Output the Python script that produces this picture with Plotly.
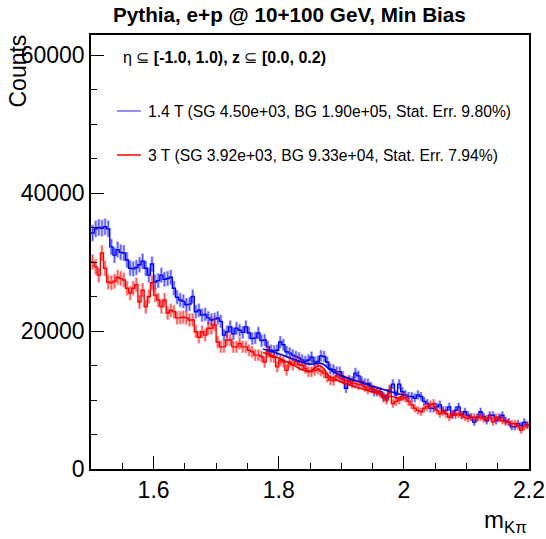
import numpy as np
import plotly.graph_objects as go

# ---------------- data ----------------
x_lo, x_hi, n_bins = 1.5, 2.2, 140

blue_counts = [
    34200, 34800, 35000, 34900, 35100, 34800, 32200, 31000, 31800, 31400,
    31300, 30300, 29100, 29000, 29200, 29600, 30100, 29100, 28100, 29700,
    27100, 27300, 28100, 27500, 27600, 27800, 26200, 24900, 24500, 24300,
    23800, 23900, 25000, 22800, 23000, 22300, 22400, 21900, 21600, 21700,
    21900, 21400, 19400, 19900, 20600, 19600, 20400, 20100, 19800, 20600,
    19700, 18900, 19000, 19700, 18600, 18700, 17700, 17200, 17100, 17200,
    18400, 18000, 17000, 16800, 16500, 16300, 16100, 15800, 15600, 15800,
    16200, 15500, 15600, 16400, 16300, 15500, 14500, 14400, 14100, 14100,
    13400, 11700, 12900, 12700, 13900, 13500, 12700, 12400, 12400, 11900,
    11200, 11200, 11200, 10500, 10300, 11500, 12300, 10750, 12300, 11200,
    10750, 10500, 10500, 10300, 10750, 10500, 9800, 9500, 8800, 8800,
    9000, 9300, 8500, 8500, 9000, 7800, 8500, 9000, 7800, 8300,
    7800, 7500, 6800, 7500, 8300, 7600, 7000, 7800, 7800, 7000,
    7500, 7800, 7000, 6800, 6100, 6100, 6600, 6300, 6800, 6400,
]

red_counts = [
    30000, 29300, 28100, 31300, 29100, 27100, 27000, 27200, 27800, 27600,
    27400, 26200, 25500, 26200, 26700, 24200, 25900, 23500, 25000, 27000,
    25200, 24500, 23500, 24500, 22600, 23000, 22800, 21900, 21900, 22000,
    21900, 21600, 21600, 19900, 19100, 19900, 19400, 20400, 20400, 20900,
    18400, 17700, 17700, 18700, 18700, 17700, 17700, 18200, 17700, 17700,
    17200, 17000, 16500, 16500, 16300, 15500, 17000, 16300, 16200, 14800,
    15800, 15500, 14300, 15500, 15100, 15600, 15100, 15000, 14600, 14100,
    14100, 14300, 14500, 14200, 13900, 13300, 12900, 12800, 13500, 13200,
    13000, 12800, 12700, 12400, 12400, 12200, 12300, 11900, 11500, 11700,
    11500, 11300, 11000, 10300, 10000, 11500, 9500, 9800, 10000, 10500,
    10300, 9800, 9300, 8800, 8500, 8300, 8800, 9000, 9300, 9500,
    8500, 8000, 8300, 8000, 7500, 8000, 7800, 8000, 7800, 7500,
    7300, 7500, 7500, 7400, 7500, 7300, 7300, 7500, 6800, 7500,
    7300, 7000, 6800, 6800, 6600, 6600, 6200, 5600, 6100, 6300,
]

# statistical-error scale factor applied to sqrt(N)
err_scale = 6.6

# fit curves
fit_x     = [1.775, 1.80, 1.82, 1.84, 1.85, 1.857, 1.865, 1.873, 1.88, 1.90, 1.93, 1.96, 1.98, 2.00]
blue_fit  = [17400, 16700, 16000, 15400, 15200, 15250, 15350, 15100, 14500, 13500, 12600, 11700, 11200, 10700]
red_fit   = [16900, 16100, 15200, 14300, 14200, 14600, 15000, 14400, 13500, 12600, 11700, 10900, 10500, 10100]

title_text = "<b>Pythia, e+p @ 10+100 GeV, Min Bias</b>"
header_text = "η ⊆ <b>[-1.0, 1.0), z</b> ⊆ <b>[0.0, 0.2)</b>"
legend_texts = ["1.4 T (SG 4.50e+03, BG 1.90e+05, Stat. Err. 9.80%)",
                "3 T (SG 3.92e+03, BG 9.33e+04, Stat. Err. 7.94%)"]
x_ticks = [1.6, 1.8, 2.0, 2.2]
x_ticktext = ["1.6", "1.8", "2", "2.2"]
y_ticks = [0, 20000, 40000, 60000]
y_ticktext = ["0", "20000", "40000", "60000"]
y_max = 62900

# ---------------- figure ----------------
FONT = "Liberation Sans, Arial, Helvetica, sans-serif"
edges = np.linspace(x_lo, x_hi, n_bins + 1)
centers = 0.5 * (edges[:-1] + edges[1:])

fig = go.Figure()

series = [
    (blue_counts, "rgb(0,0,255)", "rgba(40,40,255,0.45)"),
    (red_counts, "rgb(255,0,0)", "rgba(255,30,30,0.45)"),
]
for vals, col, light in series:
    v = np.array(vals, dtype=float)
    err = err_scale * np.sqrt(v)
    fig.add_trace(go.Scatter(
        x=centers, y=v, mode="markers",
        marker=dict(size=1, color="rgba(0,0,0,0)"),
        error_y=dict(type="data", array=err, color=light, thickness=2.6, width=0),
        showlegend=False, hoverinfo="skip"))
    fig.add_trace(go.Scatter(
        x=centers, y=v, mode="markers",
        marker=dict(size=1, color="rgba(0,0,0,0)"),
        error_y=dict(type="data", array=err * 0.9, color=col, thickness=0.8, width=0),
        showlegend=False, hoverinfo="skip", opacity=0.6))
    fig.add_trace(go.Scatter(
        x=edges, y=list(v) + [v[-1]], mode="lines",
        line=dict(shape="hv", color=col, width=1.4),
        showlegend=False, hoverinfo="skip"))

fig.add_trace(go.Scatter(x=fit_x, y=blue_fit, mode="lines",
                         line=dict(shape="spline", color="rgb(0,0,220)", width=1.6),
                         showlegend=False))
fig.add_trace(go.Scatter(x=fit_x, y=red_fit, mode="lines",
                         line=dict(shape="spline", color="rgb(235,0,0)", width=1.6),
                         showlegend=False))

L, R, T, B = 91, 17, 35, 70
W, H = 546, 539
pw, ph = W - L - R, H - T - B

def px2x(px):
    return (px - L) / pw

def py2y(py):
    return (H - B - py) / ph

axis_common = dict(showline=True, linecolor="black", linewidth=1.5, mirror=True,
                   ticks="inside", ticklen=13, tickwidth=1.2, tickcolor="black",
                   showgrid=False, zeroline=False, automargin=False,
                   tickfont=dict(family=FONT, size=23, color="black"))

fig.update_xaxes(range=[x_lo, x_hi], tickvals=x_ticks, ticktext=x_ticktext,
                 minor=dict(dtick=0.05, tick0=1.5, ticks="inside", ticklen=6,
                            tickcolor="black", tickwidth=1),
                 **axis_common)
fig.update_yaxes(range=[0, y_max], tickvals=y_ticks, ticktext=y_ticktext,
                 minor=dict(dtick=5000, tick0=0, ticks="inside", ticklen=6,
                            tickcolor="black", tickwidth=1),
                 **axis_common)

annotations = [
    dict(text=title_text, x=px2x(289), y=py2y(15), xanchor="center", yanchor="middle",
         font=dict(family=FONT, size=20.7, color="black")),
    dict(text=header_text, x=px2x(121), y=py2y(57), xanchor="left", yanchor="middle",
         font=dict(family=FONT, size=16, color="black")),
    dict(text=legend_texts[0], x=px2x(146), y=py2y(111), xanchor="left", yanchor="middle",
         font=dict(family=FONT, size=15.7, color="black")),
    dict(text=legend_texts[1], x=px2x(146), y=py2y(155), xanchor="left", yanchor="middle",
         font=dict(family=FONT, size=15.7, color="black")),
    dict(text="m<sub>Kπ</sub>", x=1.0, y=py2y(521), xanchor="right", yanchor="middle",
         font=dict(family=FONT, size=24, color="black")),
    dict(text="Counts", textangle=-90, x=px2x(18), y=py2y(33), xanchor="center", yanchor="top",
         font=dict(family=FONT, size=23, color="black")),
]
for a in annotations:
    a.update(xref="paper", yref="paper", showarrow=False)

shapes = [
    dict(type="line", xref="paper", yref="paper", x0=px2x(117), x1=px2x(141),
         y0=py2y(111), y1=py2y(111), line=dict(color="rgb(110,110,255)", width=1.5)),
    dict(type="line", xref="paper", yref="paper", x0=px2x(117), x1=px2x(141),
         y0=py2y(155), y1=py2y(155), line=dict(color="rgb(255,0,0)", width=1.5)),
]

fig.update_layout(width=W, height=H, margin=dict(l=L, r=R, t=T, b=B, autoexpand=False),
                  paper_bgcolor="white", plot_bgcolor="white",
                  annotations=annotations, shapes=shapes, showlegend=False,
                  font=dict(family=FONT))

fig.write_html("out.html")
